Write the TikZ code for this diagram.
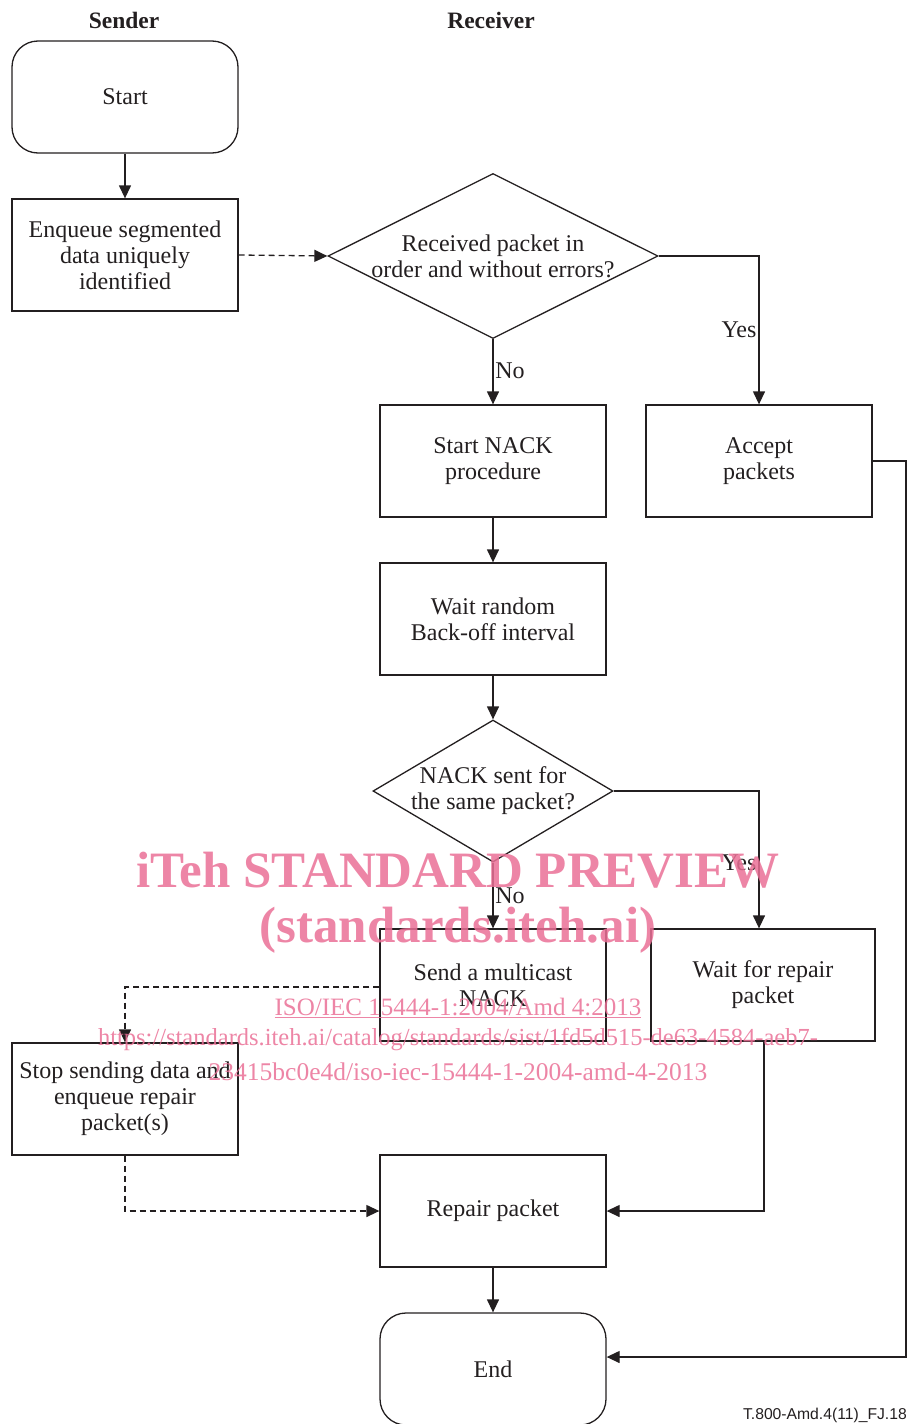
\documentclass[tikz,border=0pt]{standalone}
\usepackage{fontspec}
\setmainfont{Liberation Serif}
\newfontfamily\figsans{Liberation Sans}
\usetikzlibrary{arrows.meta,shapes.geometric,calc}
\definecolor{ink}{RGB}{35,31,32}
\definecolor{wmpink}{RGB}{234,112,150}
\begin{document}
\begin{tikzpicture}[x=1pt,y=-1pt,
  every node/.style={font=\fontsize{24}{26}\selectfont, text=ink},
  box/.style={draw=ink, line width=1.3pt, minimum width=226pt, minimum height=112pt, align=center, inner sep=0pt},
  term/.style={box, rounded corners=26pt},
  decision/.style={draw=ink, line width=1.3pt, diamond, inner sep=0pt},
  flow/.style={draw=ink, line width=1.3pt, -{Triangle[length=13pt,width=12pt]}},
  weak/.style={flow, dash pattern=on 6pt off 4pt},
  lbl/.style={inner sep=0pt},
  head/.style={font=\fontsize{23.5}{26}\bfseries\selectfont},
  wmark/.style={text=wmpink, text opacity=0.85, inner sep=0pt}
]
\useasboundingbox (0,0) rectangle (909,1424);

% column headings
\node[head] (hs) at (124,20) {Sender};
\node[head] (hr) at (491,20) {Receiver};

% sender column
\node[term] (start) at (125,97) {Start};
\node[box] (enq) at (125,255) {Enqueue segmented\\data uniquely\\identified};
\node[box] (stop) at (125,1099) {Stop sending data and\\enqueue repair\\packet(s)};

% receiver column
\node[decision, minimum width=330pt, minimum height=165pt] (d1) at (493,256) {};
\node[lbl, align=center] (d1t) at (d1.center) {Received packet in\\order and without errors?};
\node[box] (nack) at (493,461) {Start NACK\\procedure};
\node[box] (accept) at (759,461) {Accept\\packets};
\node[box] (wait) at (493,619) {Wait random\\Back-off interval};
\node[decision, minimum width=240pt, minimum height=142pt] (d2) at (493,791) {};
\node[lbl, align=center] (d2t) at (d2.center) {NACK sent for\\the same packet?};
\node[box] (send) at (493,985) {Send a multicast\\NACK};
\node[box, minimum width=224pt] (waitrep) at (763,985) {Wait for repair\\packet};
\node[box] (repair) at (493,1211) {Repair packet};
\node[term] (endn) at (493,1369) {End};

\coordinate (rail) at (906,0);

% connectors
\draw[flow] (start) -- (enq);
\draw[weak] (enq.east) -- (d1.west);
\draw[flow] (d1.east) -| (accept.north);
\draw[flow] (d1.south) -- (nack.north);
\draw[flow] (nack) -- (wait);
\draw[flow] (wait.south) -- (d2.north);
\draw[flow] (d2.east) -| ([xshift=-4pt]waitrep.north);
\draw[flow] (d2.south) -- (send.north);
\draw[weak] ([yshift=-2pt]send.west) -| (stop.north);
\draw[weak] (stop.south) |- (repair.west);
\draw[flow] ([xshift=1pt]waitrep.south) |- (repair.east);
\draw[flow] (repair) -- (endn);
\draw[flow] (accept.east) -- (accept.east -| rail) |- ([yshift=12pt]endn.east);

% branch labels
\node[lbl] (y1) at (739,330) {Yes};
\node[lbl] (n1) at (510,371) {No};
\node[lbl] (y2) at (739,863) {Yes};
\node[lbl] (n2) at (510,896) {No};

% figure reference
\node[lbl, font=\figsans\fontsize{15.7}{18}\selectfont, anchor=east] (ref) at (907,1415) {T.800-Amd.4(11)\_FJ.18};

% publisher overlay
\node[wmark, font=\fontsize{51}{56}\bfseries\selectfont] (w1) at (458,870) {iTeh STANDARD PREVIEW};
\node[wmark, font=\fontsize{51}{56}\bfseries\selectfont] (w2) at (458,930) {(standards.iteh.ai)};
\node[wmark, font=\fontsize{25}{28}\selectfont] (w3) at (458,1008) {\underline{ISO/IEC 15444-1:2004/Amd 4:2013}};
\node[wmark, font=\fontsize{24.5}{28}\selectfont] (w4) at (458,1040) {https://standards.iteh.ai/catalog/standards/sist/1fd5d515-de63-4584-aeb7-};
\node[wmark, font=\fontsize{25.5}{28}\selectfont] (w5) at (458,1072) {23415bc0e4d/iso-iec-15444-1-2004-amd-4-2013};
\end{tikzpicture}
\end{document}
